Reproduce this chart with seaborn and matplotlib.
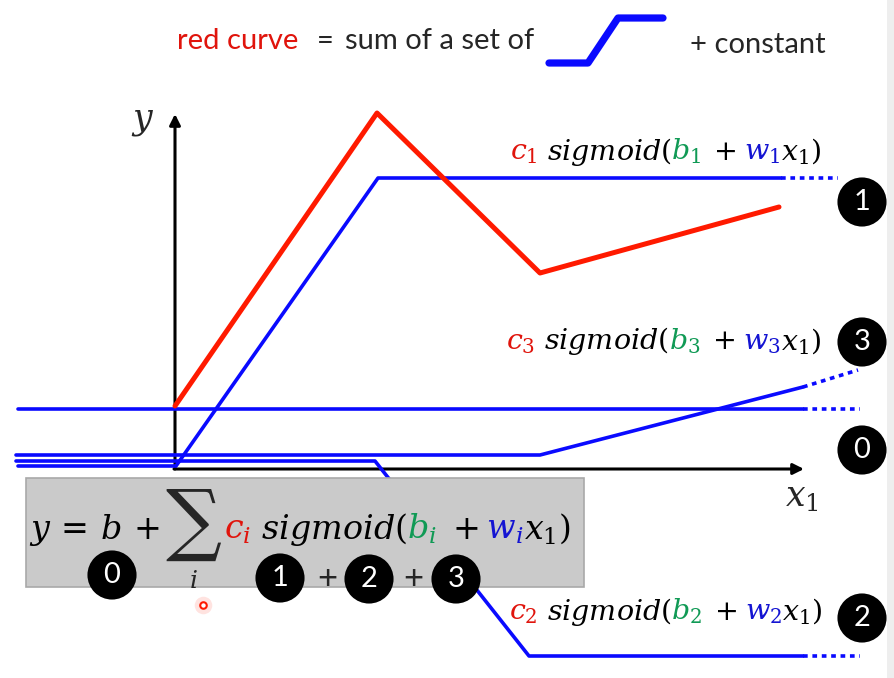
import matplotlib.pyplot as plt
import seaborn as sns
from matplotlib.patches import Rectangle

# all values in picture units, origin at the corner of the x1 / y axes
red_x = [0, 202, 365, 604]
red_y = [62, 355, 195, 261]

sig1_x = [-157, 1, 203, 606]
sig1_y = [2, 2, 290, 290]
sig1_tail_x = [606, 663]
sig1_tail_y = [290, 290]

sig2_x = [-159, 200, 354, 628]
sig2_y = [7, 7, -188, -188]
sig2_tail_x = [628, 685]
sig2_tail_y = [-188, -188]

sig3_x = [-159, 365, 628]
sig3_y = [13, 13, 81]
sig3_tail_x = [628, 683]
sig3_tail_y = [81, 98]

const_x = [-157, 628]
const_y = [59, 59]
const_tail_x = [628, 685]
const_tail_y = [59, 59]

icon_x = [374, 413, 443, 488]
icon_y = [405, 405, 450, 450]

badge_labels = ['1', '3', '0', '2', '0', '1', '2', '3']
badge_x = [687, 687, 687, 687, -63, 105, 194, 281]
badge_y = [266, 126, 18, -150, -107, -110, -111, -111]

RED = '#ff1a00'
RED_T = '#e0140c'
BLUE = '#0a0aff'
BLUE_T = '#1414d2'
GREEN_T = '#109a55'

sns.set_style('white')
plt.rcParams['font.family'] = ['Lato', 'DejaVu Sans']
plt.rcParams['mathtext.fontset'] = 'dejavuserif'

fig = plt.figure(figsize=(8.94, 6.78), dpi=100)
ax = fig.add_axes([0, 0, 1, 1])
ax.set_xlim(-175, 719)
ax.set_ylim(-210, 468)
ax.axis('off')

# faint video border on the right
ax.add_patch(Rectangle((712, -210), 7, 678, color='#eeeeee', lw=0, zorder=0))

# axes
arrow = dict(arrowstyle='-|>', lw=2.2, color='black', mutation_scale=16,
             shrinkA=0, shrinkB=0)
ax.annotate('', xy=(0, 354), xytext=(0, -1), arrowprops=arrow, zorder=1)
ax.annotate('', xy=(629, -1), xytext=(-1, -1), arrowprops=arrow, zorder=1)
ax.text(-32, 346, '$y$', fontsize=25, ha='center', va='center')
ax.text(627, -30, '$x_1$', fontsize=25, ha='center', va='center')

# blue pieces and red sum
for xs, ys in [(sig1_x, sig1_y), (sig2_x, sig2_y), (sig3_x, sig3_y), (const_x, const_y)]:
    sns.lineplot(x=xs, y=ys, sort=False, estimator=None, color=BLUE, lw=2.6,
                 ax=ax, zorder=2)
for xs, ys in [(sig1_tail_x, sig1_tail_y), (sig2_tail_x, sig2_tail_y),
               (sig3_tail_x, sig3_tail_y), (const_tail_x, const_tail_y)]:
    sns.lineplot(x=xs, y=ys, sort=False, estimator=None, color=BLUE, lw=2.6,
                 linestyle=(0, (1.3, 1.3)), dash_capstyle='butt', ax=ax, zorder=2)
sns.lineplot(x=red_x, y=red_y, sort=False, estimator=None, color=RED, lw=3.6,
             ax=ax, zorder=3)

# title line
ax.text(2, 419, 'red curve', color=RED_T, fontsize=21, va='baseline')
ax.text(142, 419, '=', fontsize=21, va='baseline')
ax.text(170, 419, 'sum of a set of', fontsize=21, va='baseline')
sns.lineplot(x=icon_x, y=icon_y, sort=False, estimator=None, color=BLUE, lw=5.2,
             ax=ax, zorder=2)
ax.text(515, 415, '+ constant', fontsize=21, va='baseline')


def put_pieces(x, y, pieces, size, z=5):
    # place coloured pieces one after another, advancing by each width
    r = fig.canvas.get_renderer()
    inv = ax.transData.inverted()
    for s, c in pieces:
        t = ax.text(x, y, s, color=c, fontsize=size, va='baseline', ha='left', zorder=z)
        bb = t.get_window_extent(r)
        p0 = inv.transform((bb.x0, bb.y0))
        p1 = inv.transform((bb.x1, bb.y0))
        x += p1[0] - p0[0]


def sig_pieces(k):
    return [(f'$c_{k}$', RED_T), (r'$\ sigmoid($', 'black'),
            (f'$b_{k}$', GREEN_T), (r'$\;+$', 'black'),
            (rf'$\;w_{k}$', BLUE_T), (r'$x_1)$', 'black')]


put_pieces(335, 308, sig_pieces(1), 20.5)
put_pieces(331, 119, sig_pieces(3), 20.5)
put_pieces(334, -152, sig_pieces(2), 20.5)

# formula box
ax.add_patch(Rectangle((-149, -119), 558, 109, facecolor='#cacaca',
                       edgecolor='#a9a9a9', lw=1.2, zorder=4))
put_pieces(-146, -71, [(r'$y\,=\,b\,+$', 'black')], 24)
ax.text(19, -57, r'$\sum$', fontsize=40, ha='center', va='center', zorder=5)
ax.text(18, -113, '$i$', fontsize=18, ha='center', va='center', zorder=5)
put_pieces(49, -71, sig_pieces('i'), 24)
ax.text(152, -111, '+', fontsize=25, ha='center', va='center', zorder=5)
ax.text(238, -111, '+', fontsize=25, ha='center', va='center', zorder=5)

# numbered badges
sns.scatterplot(x=badge_x, y=badge_y, s=1250, color='black', edgecolor='none',
                ax=ax, zorder=6, legend=False)
for bx, by, lab in zip(badge_x, badge_y, badge_labels):
    ax.text(bx, by, lab, color='white', fontsize=21, ha='center', va='center',
            zorder=7)

# pointer dot
ax.scatter([28], [-137], s=160, color=RED, alpha=0.12, lw=0, zorder=6)
ax.scatter([28], [-137], s=22, facecolor='white', edgecolor=RED, lw=1.5, zorder=7)

fig.savefig('out.png', dpi=100)
